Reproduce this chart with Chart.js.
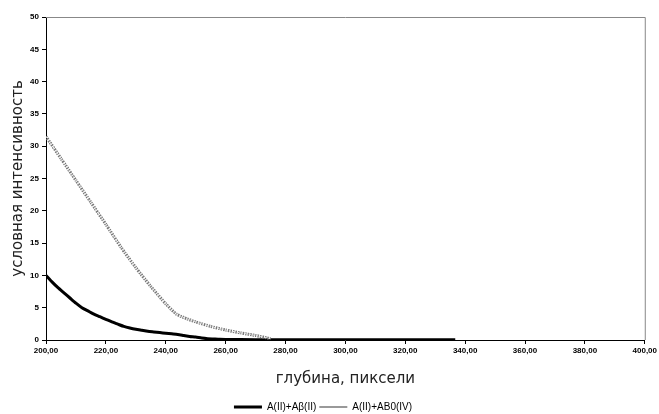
<!DOCTYPE html>
<html><head><meta charset="utf-8">
<script src="https://cdn.jsdelivr.net/npm/chart.js@4"></script>
<style>html,body{margin:0;padding:0;background:#fff}#wrap{width:659px;height:414px}</style>
</head><body><div id="wrap"><canvas id="c" width="659" height="414"></canvas></div>
<script>
const seriesNames = ['A(II)+Aβ(II)', 'A(II)+AB0(IV)'];
const blackDepth = [200,202,204,206,208,210,212,214,216,218,220,222,224,226,228,230,232,234,236,238,240,242,244,246,248,250,252,254,256,258,260,270,280,290,300,310,320,330,336.7];
const blackValues = [10,9.0,8.1,7.3,6.5,5.7,5.0,4.5,4.0,3.6,3.2,2.8,2.45,2.1,1.85,1.65,1.5,1.35,1.25,1.15,1.05,0.95,0.85,0.7,0.55,0.45,0.3,0.2,0.15,0.1,0.08,0.05,0.05,0.05,0.05,0.05,0.05,0.05,0.05];
const grayDepth = [200,205,210,215,220,225,230,235,240,243.6,247,250,255,260,265,270,275];
const grayValues = [31.5,28.1,24.7,21.3,17.9,14.4,11.2,8.3,5.6,4.0,3.3,2.8,2.1,1.55,1.1,0.7,0.2];
const xTicksMin = 200, xTicksMax = 400, xStep = 20;
const yTicksMin = 0, yTicksMax = 50, yStep = 5;
const xTitle = 'глубина, пиксели';
const yTitle = 'условная интенсивность';

const toPts = (xs, ys) => xs.map((x, i) => ({x: x, y: ys[i]}));

const frame = {
  id: 'frame',
  afterDraw(chart) {
    const {ctx, chartArea: a} = chart;
    ctx.save();
    ctx.strokeStyle = '#888';
    ctx.lineWidth = 1;
    ctx.beginPath();
    ctx.moveTo(a.left, a.top + 0.5);
    ctx.lineTo(a.right + 0.5, a.top + 0.5);
    ctx.lineTo(a.right + 0.5, a.bottom);
    ctx.stroke();
    ctx.restore();
  }
};

new Chart(document.getElementById('c'), {
  type: 'line',
  data: {
    datasets: [
      {label: seriesNames[0], data: toPts(blackDepth, blackValues), borderColor: '#000', backgroundColor: '#000', borderWidth: 3, pointRadius: 0, tension: 0.2, order: 2},
      {label: seriesNames[1], data: toPts(grayDepth, grayValues), borderColor: '#777', backgroundColor: '#777', borderWidth: 3, borderDash: [1.5, 1], pointRadius: 0, tension: 0.2, order: 1},
      {label: '_inner', data: toPts(grayDepth, grayValues), borderColor: '#e8e8e8', borderWidth: 1, borderDash: [2, 2], pointRadius: 0, tension: 0.2, order: 0}
    ]
  },
  options: {
    responsive: false,
    animation: false,
    layout: {padding: {top: 17, right: 13, left: 0, bottom: -8}},
    plugins: {
      tooltip: {enabled: false},
      legend: {
        position: 'bottom',
        labels: {
          filter: (item) => item.text !== '_inner',
          boxWidth: 28, boxHeight: 0, padding: 3,
          font: {family: 'Liberation Sans, Arial', size: 10},
          color: '#000',
          generateLabels(chart) {
            return chart.data.datasets.map((d, i) => ({
              text: d.label, fillStyle: d.borderColor, strokeStyle: i === 0 ? '#000' : '#999',
              lineWidth: i === 0 ? 3 : 2, lineDash: i === 0 ? [] : [1, 1], hidden: false, datasetIndex: i
            }));
          }
        }
      }
    },
    scales: {
      x: {
        type: 'linear', min: xTicksMin, max: xTicksMax,
        grid: {display: true, drawOnChartArea: false, drawTicks: true, tickLength: 4, color: '#000'},
        border: {color: '#000', width: 1},
        ticks: {stepSize: xStep, padding: 2, maxRotation: 0, autoSkip: false, color: '#000',
          font: {family: 'Liberation Sans, Arial', size: 8, weight: 'bold'},
          callback: (v) => v.toFixed(2).replace('.', ',')},
        title: {display: true, text: xTitle, color: '#222', font: {family: 'DejaVu Sans', size: 15}, padding: {top: 10, bottom: 11}},
        afterFit(s) { s.height = 59; }
      },
      y: {
        min: yTicksMin, max: yTicksMax,
        grid: {display: true, drawOnChartArea: false, drawTicks: true, tickLength: 4, color: '#000'},
        border: {color: '#000', width: 1},
        ticks: {stepSize: yStep, padding: 3, color: '#000', font: {family: 'Liberation Sans, Arial', size: 8, weight: 'bold'}},
        title: {display: true, text: yTitle, color: '#222', font: {family: 'DejaVu Sans', size: 15}, padding: {top: 9, bottom: 4}},
        afterFit(s) { s.width = 46; }
      }
    }
  },
  plugins: [frame]
});
</script></body></html>
